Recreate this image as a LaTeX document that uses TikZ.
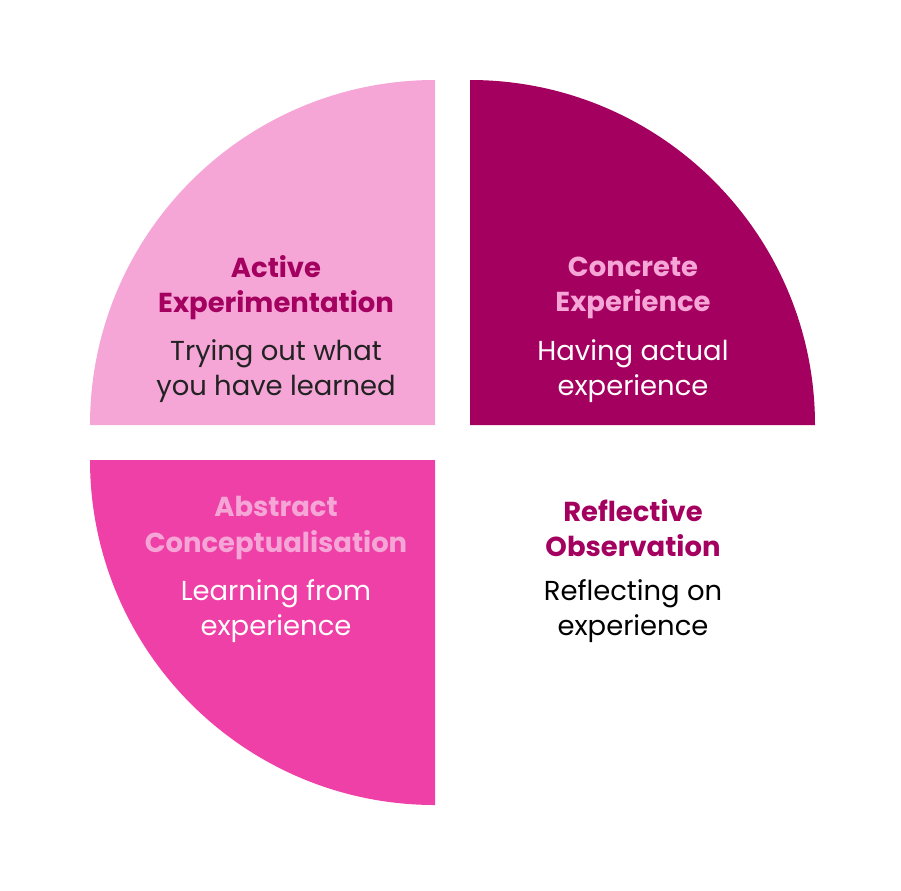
\documentclass[tikz,border=0pt]{standalone}
\usepackage{fontspec}
\setmainfont{Poppins}
\definecolor{darkmag}{HTML}{A4005F}
\definecolor{lightpink}{HTML}{F5A6D7}
\definecolor{midpink}{HTML}{EE40A7}
\definecolor{darktext}{HTML}{222222}
\tikzset{
  quarter/.style={draw=none},
  title/.style={font=\fontsize{19.5}{25}\selectfont\bfseries, align=center},
  desc/.style={font=\fontsize{19.5}{25}\selectfont, align=center}
}
\begin{document}
\begin{tikzpicture}[x=0.025cm, y=-0.025cm]
\useasboundingbox (0,0) rectangle (901,890);

% quarter discs
\fill[lightpink, quarter] (435,425) -- (90,425) arc[start angle=180, end angle=270, radius=345] -- cycle;
\fill[darkmag, quarter] (470,425) -- (470,80) arc[start angle=270, end angle=360, radius=345] -- cycle;
\fill[midpink, quarter] (435,460) -- (435,805) arc[start angle=90, end angle=180, radius=345] -- cycle;

% active experimentation
\node[title, text=darkmag] at (276,288) (aetitle) {Active\\Experimentation};
\node[desc, text=darktext] at (276,371) (aedesc) {Trying out what\\you have learned};

% concrete experience
\node[title, text=lightpink] at (633,288) (cetitle) {Concrete\\Experience};
\node[desc, text=white] at (633,371) (cedesc) {Having actual\\experience};

% abstract conceptualisation
\node[title, text=lightpink] at (276,528) (actitle) {Abstract\\Conceptualisation};
\node[desc, text=white] at (276,611) (acdesc) {Learning from\\experience};

% reflective observation
\node[title, text=darkmag] at (633,528) (rotitle) {Reflective\\Observation};
\node[desc, text=black] at (633,611) (rodesc) {Reflecting on\\experience};

\end{tikzpicture}
\end{document}
